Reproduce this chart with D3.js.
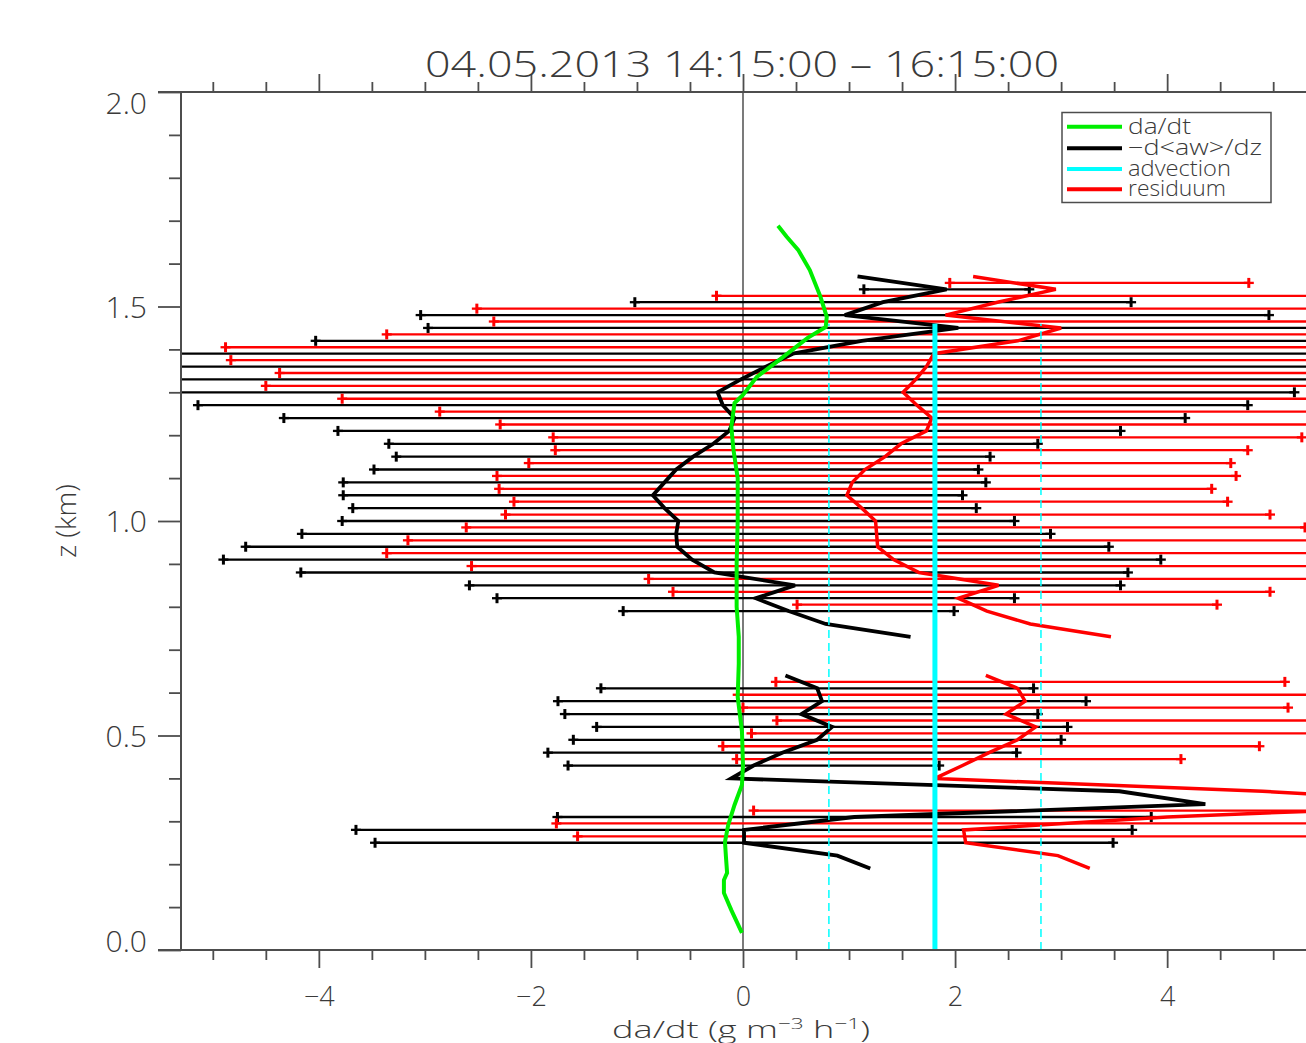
<!DOCTYPE html>
<html>
<head>
<meta charset="utf-8">
<script src="https://cdn.jsdelivr.net/npm/d3@7"></script>
<style>
  body { margin: 0; background: #fff; }
  text { font-family: "Open Sans", "DejaVu Sans", sans-serif; font-weight: 300; fill: #3a3a3a; }
</style>
</head>
<body>
<script>
// heights of the profile levels (km), upper block
const zUpper = [1.57,1.54,1.51,1.48,1.45,1.42,1.39,1.36,1.33,1.30,1.27,1.24,1.21,1.18,1.15,
                1.12,1.09,1.06,1.03,1.00,0.97,0.94,0.91,0.88,0.85,0.82,0.79,0.76,0.73];
// -d<aw>/dz and its error (half width)
const fluxUpper = [1.08,1.92,1.32,0.96,2.03,1.12,0.47,0.22,-0.02,-0.24,-0.19,-0.08,-0.13,-0.28,-0.47,
                   -0.63,-0.74,-0.85,-0.74,-0.61,-0.63,-0.62,-0.48,-0.27,0.49,0.12,0.43,0.78,1.58];
const fluxErrUpper = [null,0.78,2.34,4.00,5.00,5.15,6.20,6.00,5.80,5.44,4.95,4.25,3.69,3.06,2.80,
                      2.85,3.03,2.92,2.94,3.17,3.53,4.07,4.42,3.90,3.07,2.44,1.56,null,null];
// residuum and its error bar ends
const residUpper = [2.17,2.95,2.40,1.91,3.00,2.59,1.80,1.73,1.63,1.51,1.64,1.78,1.73,1.49,1.34,
                    1.15,1.03,0.98,1.12,1.25,1.26,1.27,1.42,1.66,2.41,2.03,2.30,2.71,3.47];
const residLoUpper = [null,1.95,-0.25,-2.51,-2.35,-3.36,-4.88,-4.83,-4.37,-4.50,-3.78,-2.86,-2.29,-1.79,-1.77,
                      -2.02,-2.32,-2.30,-2.16,-2.24,-2.61,-3.16,-3.36,-2.56,-0.89,-0.66,0.51,null,null];
const residHiUpper = [null,4.77,5.80,6.50,7.00,7.20,8.00,8.00,7.60,7.60,7.00,6.60,6.00,5.27,4.76,
                      4.60,4.65,4.42,4.57,4.97,5.30,5.80,6.00,5.80,5.60,4.97,4.47,null,null];

// lower block
const zLower = [0.64,0.61,0.58,0.55,0.52,0.49,0.46,0.43,0.40,0.37,0.34,0.31,0.28,0.25,0.22,0.19];
const fluxLower = [0.40,0.70,0.745,0.55,0.84,0.70,0.37,0.10,-0.11,3.55,4.36,1.05,0.01,0.01,0.89,1.20];
const fluxErrLower = [null,2.04,2.49,2.23,2.22,2.30,2.21,1.75,null,null,null,2.80,3.66,3.48,null,null];
const residLower = [2.29,2.59,2.66,2.48,2.76,2.59,2.32,2.07,1.81,4.90,7.00,4.00,2.08,2.10,2.97,3.27];
const residLoLower = [null,0.31,-0.05,0.00,0.32,0.08,-0.19,-0.06,null,null,null,0.10,-1.76,-1.56,null,null];
const residHiLower = [null,5.11,5.80,5.14,5.90,5.70,4.87,4.13,null,null,null,6.50,6.60,6.20,null,null];

// da/dt
const greenZ = [1.688,1.663,1.632,1.585,1.523,1.476,1.452,1.427,1.375,1.336,1.294,1.275,1.219,1.166,1.10,
                1.00,0.90,0.80,0.73,0.667,0.59,0.51,0.43,0.385,0.338,0.291,0.252,0.214,0.180,0.163,0.133,0.093,0.040];
const greenVal = [0.33,0.41,0.52,0.63,0.73,0.79,0.78,0.61,0.34,0.13,0.00,-0.08,-0.11,-0.09,-0.05,
                  -0.05,-0.06,-0.06,-0.04,-0.04,-0.05,-0.01,0.00,-0.01,-0.08,-0.14,-0.17,-0.16,-0.15,-0.18,-0.18,-0.11,-0.01];

// advection (constant) and its error
const advZ = [0.0, 1.46];
const advVal = [1.81, 1.81];
const advErr = 1.0;

const xMajor = [-4, -2, 0, 2, 4];
const xMinor = [-5,-4.5,-3.5,-3,-2.5,-1.5,-1,-0.5,0.5,1,1.5,2.5,3,3.5,4.5,5];
const yMajor = [0, 0.5, 1.0, 1.5, 2.0];
const yMinor = [0.1,0.2,0.3,0.4,0.6,0.7,0.8,0.9,1.1,1.2,1.3,1.4,1.6,1.7,1.8,1.9];

const legendNames = ["da/dt", "\u2212d<aw>/dz", "advection", "residuum"];
const legendColors = ["#00ee00", "#000000", "#00ffff", "#ff0000"];

const W = 1306, H = 1043;
const plotLeft = 181, plotTop = 92, plotBottom = 950;
const axisColor = "#4d4d4d";

const svg = d3.select("body").append("svg").attr("width", W).attr("height", H);

const x = d3.scaleLinear().domain([-5.3, 5.3]).range([plotLeft, 1305]);
const y = d3.scaleLinear().domain([0, 2]).range([plotBottom, plotTop]);

svg.append("clipPath").attr("id", "plot")
  .append("rect").attr("x", plotLeft).attr("y", plotTop).attr("width", 1400).attr("height", plotBottom - plotTop);

const plot = svg.append("g").attr("clip-path", "url(#plot)");

// thin zero line
plot.append("line")
  .attr("x1", x(0)).attr("x2", x(0)).attr("y1", plotTop).attr("y2", plotBottom)
  .attr("stroke", "#222").attr("stroke-width", 1.2);

function rows(zs, vals) {
  return zs.map((z, i) => ({z: z, v: vals[i]}));
}

// error bars with + at both ends
function errorBars(data, color, dz) {
  const g = plot.append("g");
  data.forEach(d => {
    const yy = y(d.z + dz);
    g.append("line")
      .attr("x1", x(d.lo)).attr("x2", x(d.hi)).attr("y1", yy).attr("y2", yy)
      .attr("stroke", color).attr("stroke-width", 2.3);
    [d.lo, d.hi].forEach(e => {
      g.append("line")
        .attr("x1", x(e)).attr("x2", x(e)).attr("y1", yy - 5).attr("y2", yy + 5)
        .attr("stroke", color).attr("stroke-width", 3);
      g.append("line")
        .attr("x1", x(e) - 5).attr("x2", x(e) + 5).attr("y1", yy).attr("y2", yy)
        .attr("stroke", color).attr("stroke-width", 2.3);
    });
  });
}

function fluxBars(zs, vals, errs) {
  const out = [];
  zs.forEach((z, i) => {
    if (errs[i] != null) out.push({z: z, lo: vals[i] - errs[i], hi: vals[i] + errs[i]});
  });
  return out;
}

function residBars(zs, los, his) {
  const out = [];
  zs.forEach((z, i) => {
    if (los[i] != null) out.push({z: z, lo: los[i], hi: his[i]});
  });
  return out;
}

errorBars(fluxBars(zUpper, fluxUpper, fluxErrUpper), "#000", 0);
errorBars(fluxBars(zLower, fluxLower, fluxErrLower), "#000", 0);
errorBars(residBars(zUpper, residLoUpper, residHiUpper), "#ff0000", 0.015);
errorBars(residBars(zLower, residLoLower, residHiLower), "#ff0000", 0.015);

const line = d3.line().x(d => x(d.v)).y(d => y(d.z));

function profile(data, color, width) {
  plot.append("path").datum(data)
    .attr("d", line)
    .attr("fill", "none")
    .attr("stroke", color)
    .attr("stroke-width", width)
    .attr("stroke-linejoin", "miter");
}

profile(rows(zUpper, fluxUpper), "#000", 3.8);
profile(rows(zLower, fluxLower), "#000", 3.8);
profile(rows(zUpper, residUpper), "#ff0000", 3.5);
profile(rows(zLower, residLower), "#ff0000", 3.5);
profile(rows(greenZ, greenVal), "#00ee00", 4);

// advection with dashed error lines
profile(rows(advZ, advVal), "#00ffff", 5);
plot.append("path").datum(rows(advZ, advVal.map(v => v - advErr)))
  .attr("d", line).attr("fill", "none").attr("stroke", "#00ffff")
  .attr("stroke-width", 1.5).attr("stroke-dasharray", "8,5");
plot.append("path").datum(rows(advZ, advVal.map(v => v + advErr)))
  .attr("d", line).attr("fill", "none").attr("stroke", "#00ffff")
  .attr("stroke-width", 1.5).attr("stroke-dasharray", "8,5");

// axes
const fmtX = d => d < 0 ? "\u2212" + Math.abs(d) : String(d);

function styleAxis(g) {
  g.select(".domain").remove();
  g.selectAll(".tick line").attr("stroke", axisColor).attr("stroke-width", 1.8);
  g.selectAll(".tick text").style("font-size", "27px").attr("fill", "#3a3a3a");
}

svg.append("g").attr("transform", `translate(0,${plotBottom})`)
  .call(d3.axisBottom(x).tickValues(xMajor).tickSize(18).tickFormat(fmtX))
  .call(styleAxis)
  .call(g => g.selectAll(".tick text").attr("y", 46).attr("dy", "0.36em"));
svg.append("g").attr("transform", `translate(0,${plotBottom})`)
  .call(d3.axisBottom(x).tickValues(xMinor).tickSize(10).tickFormat(""))
  .call(styleAxis);
svg.append("g").attr("transform", `translate(0,${plotTop})`)
  .call(d3.axisTop(x).tickValues(xMajor).tickSize(18).tickFormat(""))
  .call(styleAxis);
svg.append("g").attr("transform", `translate(0,${plotTop})`)
  .call(d3.axisTop(x).tickValues(xMinor).tickSize(10).tickFormat(""))
  .call(styleAxis);

svg.append("g").attr("transform", `translate(${plotLeft},0)`)
  .call(d3.axisLeft(y).tickValues(yMajor).tickSize(23).tickFormat(d3.format(".1f")))
  .call(styleAxis)
  .call(g => g.selectAll(".tick text")
    .style("font-size", "30px")
    .attr("x", -34)
    .attr("dy", d => d === 2 ? "0.7em" : (d === 0 ? "0.05em" : "0.36em")));
svg.append("g").attr("transform", `translate(${plotLeft},0)`)
  .call(d3.axisLeft(y).tickValues(yMinor).tickSize(12).tickFormat(""))
  .call(styleAxis);

// frame
svg.append("line").attr("x1", plotLeft).attr("x2", plotLeft).attr("y1", plotTop).attr("y2", plotBottom)
  .attr("stroke", axisColor).attr("stroke-width", 2);
svg.append("line").attr("x1", plotLeft - 23).attr("x2", W).attr("y1", plotTop).attr("y2", plotTop)
  .attr("stroke", axisColor).attr("stroke-width", 2);
svg.append("line").attr("x1", plotLeft - 23).attr("x2", W).attr("y1", plotBottom).attr("y2", plotBottom)
  .attr("stroke", axisColor).attr("stroke-width", 2);

// title and axis titles
svg.append("text")
  .attr("x", 742).attr("y", 77)
  .attr("text-anchor", "middle")
  .attr("textLength", 634).attr("lengthAdjust", "spacingAndGlyphs")
  .style("font-size", "37px")
  .text("04.05.2013  14:15:00  \u2013  16:15:00");

svg.append("text")
  .attr("transform", "translate(76,521) rotate(-90)")
  .attr("text-anchor", "middle")
  .style("font-size", "28px")
  .text("z (km)");

const xl = svg.append("text")
  .attr("x", 612).attr("y", 1038)
  .attr("textLength", 258).attr("lengthAdjust", "spacingAndGlyphs")
  .style("font-size", "24px");
xl.append("tspan").text("da/dt (g m");
xl.append("tspan").attr("dy", -9).style("font-size", "15px").text("\u22123");
xl.append("tspan").attr("dy", 9).text(" h");
xl.append("tspan").attr("dy", -9).style("font-size", "15px").text("\u22121");
xl.append("tspan").attr("dy", 9).text(")");

// legend
const leg = svg.append("g");
leg.append("rect")
  .attr("x", 1062).attr("y", 112.5).attr("width", 209).attr("height", 90)
  .attr("fill", "#fff").attr("stroke", axisColor).attr("stroke-width", 1.5);
const legY = [126.7, 148.3, 169, 189.3];
const legW = [63, 134, 103, 98];
legendNames.forEach((name, i) => {
  leg.append("line")
    .attr("x1", 1067).attr("x2", 1122).attr("y1", legY[i]).attr("y2", legY[i])
    .attr("stroke", legendColors[i]).attr("stroke-width", 4);
  leg.append("text")
    .attr("x", 1128).attr("y", legY[i] + 7)
    .attr("textLength", legW[i]).attr("lengthAdjust", "spacingAndGlyphs")
    .style("font-size", "22px")
    .text(name);
});
</script>
</body>
</html>
